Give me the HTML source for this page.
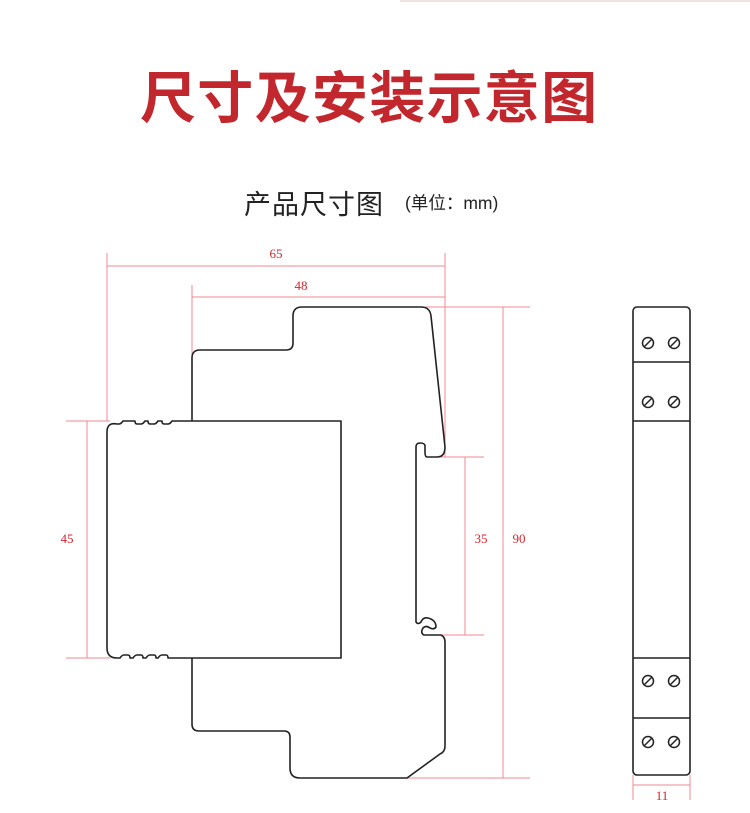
<!DOCTYPE html>
<html><head><meta charset="utf-8"><style>
html,body{margin:0;padding:0;background:#fff;width:750px;height:813px;overflow:hidden}
</style></head><body>
<div style="position:absolute;left:400px;top:0;width:350px;height:2px;background:#f3e2e2"></div>
<div style="position:absolute;left:140px;top:63px;font-family:'Liberation Sans','Noto Sans CJK SC',sans-serif;font-size:56px;font-weight:bold;color:#c1272d;letter-spacing:1.3px;line-height:72px;white-space:nowrap">尺寸及安装示意图</div>
<div style="position:absolute;left:244px;top:183px;font-family:'Liberation Sans','Noto Sans CJK SC',sans-serif;font-size:27px;color:#222;letter-spacing:1px;white-space:nowrap">产品尺寸图</div>
<div style="position:absolute;left:405px;top:190px;font-family:'Liberation Sans','Noto Sans CJK SC',sans-serif;font-size:17.5px;color:#222;white-space:nowrap">(单位：mm)</div>
<svg width="750" height="813" style="position:absolute;left:0;top:0" xmlns="http://www.w3.org/2000/svg">
<g stroke="#f08a8f" stroke-width="1" fill="none">
<line x1="107" y1="253" x2="107" y2="421"/><line x1="445" y1="253" x2="445" y2="457"/>
<line x1="107" y1="266" x2="445" y2="266"/>
<line x1="192" y1="285" x2="192" y2="355"/><line x1="192" y1="297" x2="445" y2="297"/>
<line x1="66" y1="421" x2="110" y2="421"/><line x1="66" y1="658" x2="110" y2="658"/><line x1="87" y1="421" x2="87" y2="658"/>
<line x1="440" y1="457" x2="484" y2="457"/><line x1="430" y1="635" x2="484" y2="635"/><line x1="465" y1="457" x2="465" y2="635"/>
<line x1="420" y1="307" x2="530" y2="307"/><line x1="400" y1="778" x2="530" y2="778"/><line x1="503" y1="307" x2="503" y2="778"/>
<line x1="633" y1="775" x2="633" y2="800"/><line x1="690" y1="775" x2="690" y2="800"/><line x1="633" y1="785" x2="690" y2="785"/>
</g>
<g font-family="Liberation Serif,serif" font-size="13" fill="#d6262e" text-anchor="middle">
<text x="276" y="258">65</text><text x="301" y="290">48</text>
<text x="67" y="543">45</text><text x="481" y="543">35</text><text x="519" y="543">90</text>
<text x="662" y="800">11</text>
</g>
<g stroke="#222" stroke-width="1.6" fill="none" stroke-linejoin="round">
<path d="M192 421 V358 Q192 350 200 350 H286 Q293 350 293 343 V316 Q293 307 302 307 H421 Q430 307 431 316 L445 447 Q445 457 437 457 H427 Q425 457 425 452 V446 Q425 443 420 443 Q416 443 416 447 V622 Q418 625 421 622 Q423 617 428 618 Q436 620 436 627 Q434 630 430 628 Q426 625 423 628 Q420 633 424 635 H441 Q445 637 445 642 V746 Q445 752 440 754 L407 778 H300 Q290 778 290 768 V737 Q290 731 284 731 H199 Q192 731 192 724 V658"/>
<path d="M341 421 H172 Q170 424 168 424 H164 Q162 424 162 421 H158 Q156 424 154 424 H150 Q148 424 148 421 H145 Q143 424 141 424 H137 Q135 424 135 421 H123 Q121 424 119 424 H117 Q107 422 107 432 V648 Q107 658 117 658 H120 Q122 655 124 655 H128 Q130 655 130 658 H133 Q135 655 137 655 H141 Q143 655 143 658 H146 Q148 655 150 655 H154 Q156 655 156 658 H158 Q160 655 162 655 H166 Q168 655 168 658 H341 Z"/>
<rect x="633" y="307" width="57" height="468" rx="4"/>
<line x1="633" y1="362" x2="690" y2="362"/><line x1="633" y1="421" x2="690" y2="421"/>
<line x1="633" y1="658" x2="690" y2="658"/><line x1="633" y1="718" x2="690" y2="718"/>
</g>
<g stroke="#222" stroke-width="1.5" fill="none">
<g id="s"><circle cx="648" cy="343" r="5.5"/><line x1="644" y1="347" x2="652" y2="339"/><circle cx="674" cy="343" r="5.5"/><line x1="670" y1="347" x2="678" y2="339"/></g>
<use href="#s" y="59"/><use href="#s" y="338"/><use href="#s" y="399"/>
</g>
</svg>
</body></html>
